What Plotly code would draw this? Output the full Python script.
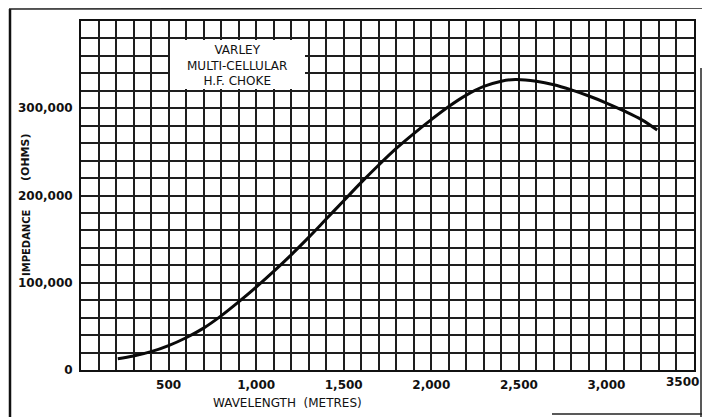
import plotly.graph_objects as go

# Data
wavelength_m = [210, 300, 400, 500, 600, 700, 800, 900, 1000, 1100, 1200, 1300, 1400,
                1500, 1600, 1700, 1800, 1900, 2000, 2100, 2200, 2300, 2400, 2480,
                2600, 2700, 2800, 2900, 3000, 3100, 3200, 3290]
impedance_ohms = [13000, 16000, 21000, 28000, 37000, 48000, 62000, 78000, 95000, 113000,
                  132000, 152000, 173000, 194000, 215000, 235000, 254000, 271000, 287000,
                  302000, 315000, 325000, 331000, 333000, 331000, 327000, 321000, 314000,
                  306000, 297000, 287000, 275000]

x_tick_vals = [500, 1000, 1500, 2000, 2500, 3000]
x_tick_text = ["500", "1,000", "1,500", "2,000", "2,500", "3,000"]
x_end_label = "3500"
y_tick_vals = [0, 100000, 200000, 300000]
y_tick_text = ["0", "100,000", "200,000", "300,000"]

# The page body adds an 8 px margin at the top-left, so the figure is drawn
# 8 px smaller and reference pixel positions are shifted by OFF.
OFF = 8
W, H = 710 - OFF, 417 - OFF
L, R, T, B = 81 - OFF, 16, 21 - OFF, 47
pw, ph = W - L - R, H - T - B


def px_x(p):
    return (p - OFF - L) / pw


def px_y(p):
    return (H - B - (p - OFF)) / ph


grid_col = "#1e1e1e"
tick_font = dict(family="DejaVu Sans", size=12, color="#111", weight="bold")

fig = go.Figure()
fig.add_trace(go.Scatter(
    x=wavelength_m, y=impedance_ohms, mode="lines",
    line=dict(color="#0a0a0a", width=3, shape="spline", smoothing=1.0),
    hoverinfo="skip", showlegend=False,
))

fig.update_layout(
    width=W, height=H,
    margin=dict(l=L, r=R, t=T, b=B, autoexpand=False),
    paper_bgcolor="white", plot_bgcolor="white",
    showlegend=False,
    xaxis=dict(
        range=[0, 3500], tickvals=x_tick_vals, ticktext=x_tick_text,
        tickfont=tick_font, ticks="", showgrid=True, gridcolor=grid_col, gridwidth=1.6,
        minor=dict(dtick=100, tick0=0, showgrid=True, gridcolor=grid_col, gridwidth=1.6),
        showline=True, linecolor="#111", linewidth=2, mirror=True,
        zeroline=False, fixedrange=True, ticklabelstandoff=3,
    ),
    yaxis=dict(
        range=[0, 400000], tickvals=y_tick_vals, ticktext=y_tick_text,
        tickfont=tick_font, ticks="", showgrid=True, gridcolor=grid_col, gridwidth=1.6,
        minor=dict(dtick=20000, tick0=0, showgrid=True, gridcolor=grid_col, gridwidth=1.6),
        showline=True, linecolor="#111", linewidth=2, mirror=True,
        zeroline=False, fixedrange=True, ticklabelstandoff=4,
    ),
)

# Last x label sits against the right edge of the page in the original
fig.add_annotation(text=x_end_label, xref="paper", yref="paper", x=px_x(701), y=px_y(382),
                   showarrow=False, xanchor="right", yanchor="middle", font=tick_font)

# White label box in the upper left of the grid
fig.add_shape(type="rect", xref="paper", yref="paper",
              x0=px_x(170), x1=px_x(305), y0=px_y(89), y1=px_y(40),
              fillcolor="white", line=dict(width=0), layer="above")
fig.add_annotation(text="VARLEY<br>MULTI-CELLULAR<br>H.F. CHOKE", xref="paper", yref="paper",
                   x=px_x(237), y=px_y(65.5), showarrow=False, align="center",
                   xanchor="center", yanchor="middle",
                   font=dict(family="DejaVu Sans", size=12, color="#111"))

# Axis titles
fig.add_annotation(text="IMPEDANCE", xref="paper", yref="paper", x=px_x(26), y=px_y(243),
                   textangle=-90, showarrow=False, xanchor="center", yanchor="middle",
                   font=dict(family="DejaVu Sans", size=10, color="#111", weight="bold"))
fig.add_annotation(text="(OHMS)", xref="paper", yref="paper", x=px_x(25), y=px_y(157),
                   textangle=-90, showarrow=False, xanchor="center", yanchor="middle",
                   font=dict(family="DejaVu Sans", size=11, color="#111", weight="bold"))
fig.add_annotation(text="WAVELENGTH  (METRES)", xref="paper", yref="paper",
                   x=px_x(287), y=px_y(403), showarrow=False,
                   xanchor="center", yanchor="middle",
                   font=dict(family="DejaVu Sans", size=12, color="#111"))

# Page frame lines from the scanned original
frame = dict(color="#111", width=2.5)
fig.add_shape(type="line", xref="paper", yref="paper",
              x0=px_x(10), x1=px_x(10), y0=px_y(9), y1=px_y(417), line=frame)
fig.add_shape(type="line", xref="paper", yref="paper",
              x0=px_x(9), x1=px_x(706), y0=px_y(9), y1=px_y(8), line=dict(color="#222", width=1.5))
fig.add_shape(type="line", xref="paper", yref="paper",
              x0=px_x(701), x1=px_x(701), y0=px_y(68), y1=px_y(417), line=dict(color="#222", width=1.5))
fig.add_shape(type="line", xref="paper", yref="paper",
              x0=px_x(552), x1=px_x(710), y0=px_y(414), y1=px_y(414), line=dict(color="#222", width=1.5))

fig.write_html("out.html")
